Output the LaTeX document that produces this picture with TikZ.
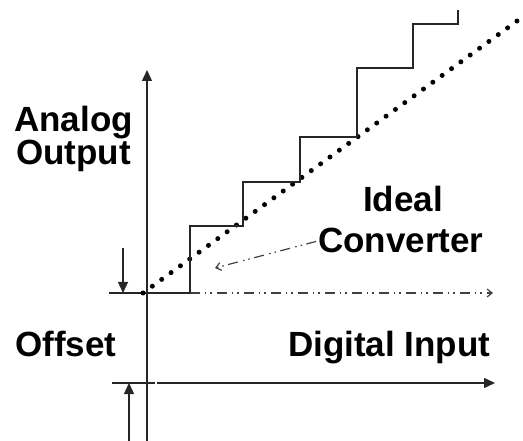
\documentclass[tikz,border=0pt]{standalone}
\usepackage{fontspec}
\setmainfont{Liberation Sans}
\usetikzlibrary{arrows.meta}
\def\tikzunit{1pt}

\begin{document}
\begin{tikzpicture}[x=\tikzunit,y=-\tikzunit,
  ax/.style={black!85,line width=1.3pt},
  lbl/.style={font=\fontsize{35}{35}\selectfont\bfseries,inner sep=0pt,anchor=base west},
  dashdot/.style={black!75,line width=1.2pt,
    dash pattern=on 10pt off 4.5pt on 1.5pt off 4pt on 1.5pt off 5.5pt},
  filled/.style={-{Triangle[length=11pt,width=10pt]}},
  openhead/.style={-{Straight Barb[length=5pt,width=8pt]}}]

  \useasboundingbox (0,0) rectangle (523,441);

  % axes
  \coordinate (o)  at (147,293);
  \coordinate (yb) at (147,441);
  \coordinate (yt) at (147,70);
  \coordinate (xl) at (112,383);
  \coordinate (xg) at (155,383);
  \coordinate (xs) at (157,383);
  \coordinate (xe) at (495,383);
  \draw[ax,filled] (yb) -- (yt);
  \draw[ax] (xl) -- (xg);
  \draw[ax,filled] (xs) -- (xe);

  % offset level
  \coordinate (ol) at (109,293);
  \coordinate (s0) at (190,293);
  \coordinate (oe) at (493,293);
  \draw[ax] (ol) -- (s0);
  \draw[dashdot,openhead] (s0) -- (oe);

  % offset arrows
  \coordinate (a1) at (123,248);
  \coordinate (a2) at (123,293);
  \coordinate (b1) at (129,441);
  \coordinate (b2) at (129,383);
  \draw[ax,filled] (a1) -- (a2);
  \draw[ax,filled] (b1) -- (b2);

  % ideal line
  \coordinate (d0) at (143,293);
  \coordinate (d1) at (517,21);
  \draw[line width=5pt,line cap=round,dash pattern=on 0pt off 11.56pt] (d0) -- (d1);

  % staircase
  \draw[ax]
    (s0) -- (190,226) -- (243,226) -- (243,182) -- (300,182)
    -- (300,137) -- (357,137) -- (357,68) -- (413,68)
    -- (413,24) -- (458,24) -- (458,10);

  % labels
  \node[lbl] (analog) at (14,132) {Analog};
  \node[lbl] (output) at (16,165) {Output};
  \node[lbl] (offset) at (15,356) {Offset};
  \node[lbl] (digin)  at (288,356) {Digital Input};
  \node[lbl] (ideal)  at (363,212) {Ideal};
  \node[lbl] (conv)   at (318,253) {Converter};

  \coordinate (ip) at (215,268);
  \draw[dashdot,openhead,shorten <=2pt] (conv.west) -- (ip);

\end{tikzpicture}
\end{document}
